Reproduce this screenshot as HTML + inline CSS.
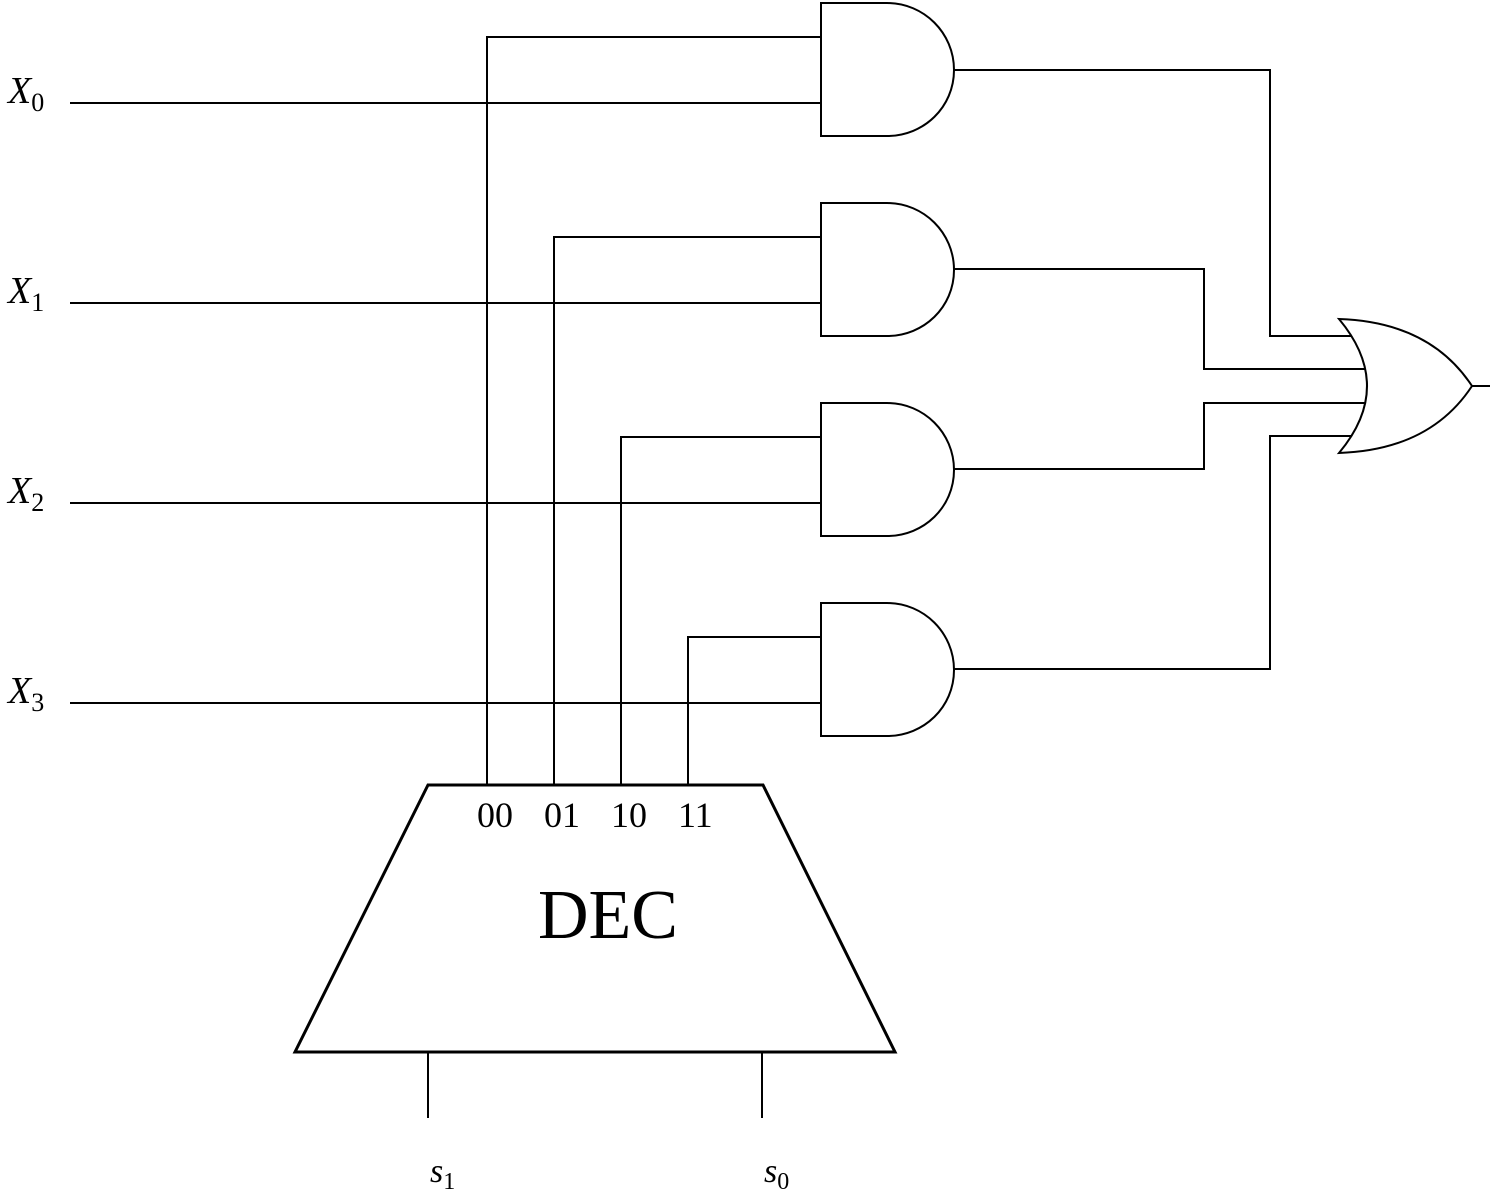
<!DOCTYPE html>
<html><head><meta charset="utf-8"><style>html,body{margin:0;padding:0;background:#fff}svg{display:block}</style></head>
<body>
<svg width="1490" height="1196" viewBox="0 0 1490 1196" xmlns="http://www.w3.org/2000/svg">
<g fill="none" stroke="#000" stroke-width="2">
  <line x1="70" y1="103" x2="821" y2="103"/>
  <line x1="70" y1="303" x2="821" y2="303"/>
  <line x1="70" y1="503" x2="821" y2="503"/>
  <line x1="70" y1="703" x2="821" y2="703"/>
  <polyline points="487,785 487,37 821,37"/>
  <polyline points="554,785 554,237 821,237"/>
  <polyline points="621,785 621,437 821,437"/>
  <polyline points="688,785 688,637 821,637"/>
  <path d="M821,3 H887 C924,3 954,33 954,70 C954,107 924,136 887,136 H821 Z"/>
  <path d="M821,203 H887 C924,203 954,233 954,270 C954,307 924,336 887,336 H821 Z"/>
  <path d="M821,403 H887 C924,403 954,433 954,470 C954,507 924,536 887,536 H821 Z"/>
  <path d="M821,603 H887 C924,603 954,633 954,670 C954,707 924,736 887,736 H821 Z"/>
  <polyline points="954,70 1270,70 1270,336 1352,336"/>
  <polyline points="954,269 1204,269 1204,369 1367,369"/>
  <polyline points="954,469 1204,469 1204,403 1367,403"/>
  <polyline points="954,669 1270,669 1270,436 1352,436"/>
  <path d="M1339,319 Q1395,386 1339,453 Q1430,450 1472,386 Q1430,322 1339,319 Z" fill="#fff"/>
  <line x1="1472" y1="386" x2="1490" y2="386"/>
  <line x1="428" y1="1052" x2="428" y2="1118"/>
  <line x1="762" y1="1052" x2="762" y2="1118"/>
</g>
<polygon points="428,785 763,785 895,1052 295,1052" fill="none" stroke="#000" stroke-width="3"/>
<g font-family="Liberation Serif, serif" fill="#000">
  <text x="8" y="103" font-size="38" font-style="italic">X<tspan font-style="normal" font-size="26" dy="8">0</tspan></text>
  <text x="8" y="303" font-size="38" font-style="italic">X<tspan font-style="normal" font-size="26" dy="8">1</tspan></text>
  <text x="8" y="503" font-size="38" font-style="italic">X<tspan font-style="normal" font-size="26" dy="8">2</tspan></text>
  <text x="8" y="703" font-size="38" font-style="italic">X<tspan font-style="normal" font-size="26" dy="8">3</tspan></text>
  <text x="477" y="827" font-size="36">00</text>
  <text x="544" y="827" font-size="36">01</text>
  <text x="611" y="827" font-size="36">10</text>
  <text x="678" y="827" font-size="36">11</text>
  <text x="538" y="938" font-size="70">DEC</text>
  <text x="430" y="1182" font-size="34" font-style="italic">s<tspan font-style="normal" font-size="24" dy="7">1</tspan></text>
  <text x="764" y="1182" font-size="34" font-style="italic">s<tspan font-style="normal" font-size="24" dy="7">0</tspan></text>
</g>
</svg>
</body></html>
